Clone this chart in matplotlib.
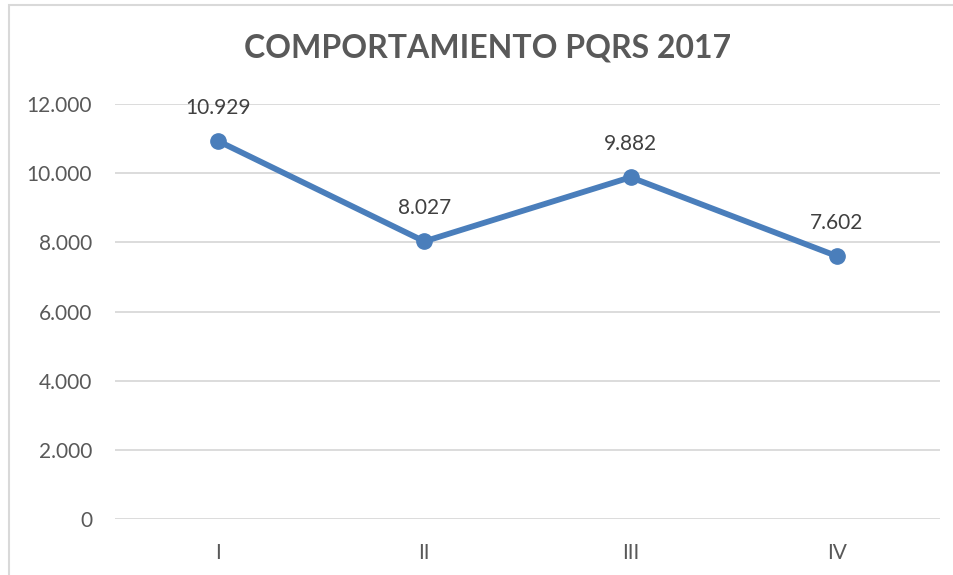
import matplotlib.pyplot as plt
from matplotlib.patches import Rectangle
from matplotlib.ticker import FuncFormatter

categories = ["I", "II", "III", "IV"]
values = [10929, 8027, 9882, 7602]
y_ticks = [0, 2000, 4000, 6000, 8000, 10000, 12000]

plt.rcParams["font.family"] = ["Lato", "DejaVu Sans"]


def miles(v, pos=None):
    # thousands separator with a dot
    return f"{int(v):,}".replace(",", ".")


fig = plt.figure(figsize=(9.54, 5.75), dpi=100)
ax = fig.add_axes([115 / 954, 1 - 519 / 575, 825 / 954, 415 / 575])

# light frame round the chart area
fig.patches.append(Rectangle((9 / 954, -0.1), 1.2, 1 - 5 / 575 + 0.1,
                             transform=fig.transFigure, fill=False,
                             edgecolor="#D9D9D9", linewidth=1.5))

x = list(range(len(categories)))
ax.plot(x, values, color="#4A7EBB", linewidth=4.2, marker="o",
        markersize=11, zorder=3, solid_capstyle="round")

for xi, v in zip(x, values):
    ax.annotate(miles(v), (xi, v), xytext=(0, 24), textcoords="offset points",
                ha="center", va="center", fontsize=15, color="#404040")

ax.set_xlim(-0.5, len(categories) - 0.5)
ax.set_ylim(0, 12000)
ax.set_yticks(y_ticks)
ax.yaxis.set_major_formatter(FuncFormatter(miles))
ax.set_xticks(x)
ax.set_xticklabels(categories)

ax.grid(axis="y", color="#D9D9D9", linewidth=1.3)
ax.set_axisbelow(True)
for s in ["top", "right", "left", "bottom"]:
    ax.spines[s].set_visible(False)
ax.tick_params(axis="both", length=0, labelsize=15, colors="#595959")
ax.tick_params(axis="y", pad=16.5)
ax.tick_params(axis="x", pad=17)

fig.text(488 / 954, 1 - 48 / 575, "COMPORTAMIENTO PQRS 2017", ha="center",
         va="center", fontsize=23, fontweight="bold", color="#595959")

fig.savefig("out.png", dpi=100)
